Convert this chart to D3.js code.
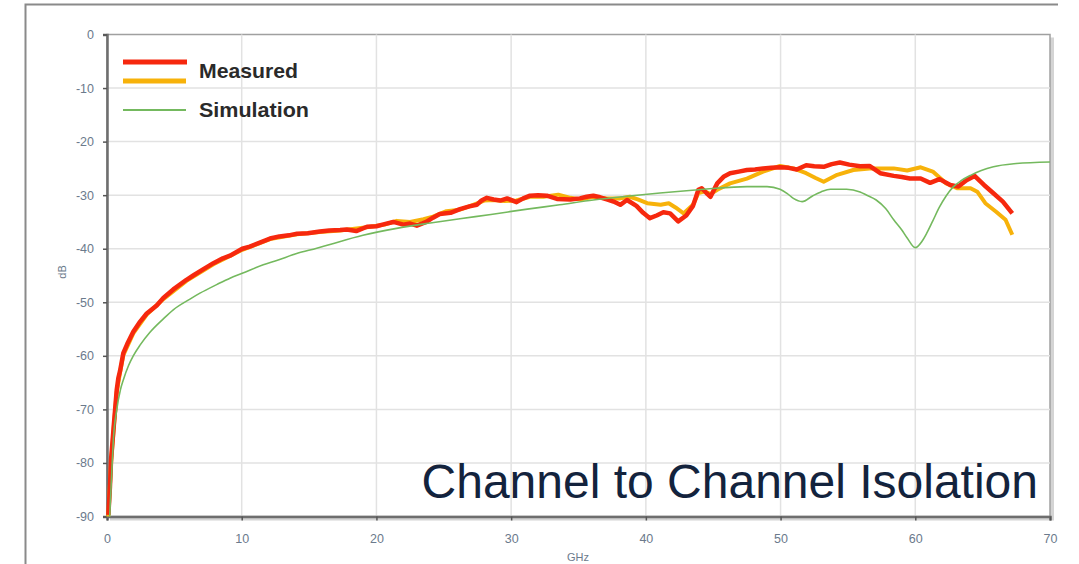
<!DOCTYPE html>
<html>
<head>
<meta charset="utf-8">
<script src="https://cdn.jsdelivr.net/npm/d3@7"></script>
<style>
  html, body { margin: 0; padding: 0; background: #fff; }
  svg { display: block; }
</style>
</head>
<body>
<svg id="chart" width="1079" height="564"></svg>
<script>
// Frequency (GHz) and isolation (dB) samples for each trace
const measuredAGHz = [0.1,0.22,0.3,0.42,0.52,0.6,0.72,0.84,0.97,1.21,1.5,1.95,2.4,2.95,3.69,4.18,4.92,5.9,6.4,7.1,7.9,8.6,9.13,10.04,10.6,11.3,12.1,12.8,13.5,14.1,14.9,15.8,16.5,17.3,17.8,18.5,19.3,20.0,20.6,21.25,22.0,22.5,23.0,23.7,24.2,24.7,25.5,26.2,26.9,27.45,27.8,28.2,28.7,29.2,29.7,30.4,30.9,31.4,32.0,32.65,33.4,34.4,35.1,35.6,36.1,36.6,37.1,37.6,38.1,38.6,39.3,39.8,40.3,40.8,41.3,41.8,42.4,43.0,43.5,43.9,44.15,44.5,44.8,45.3,45.8,46.25,46.9,47.5,48.1,48.7,49.3,49.96,50.6,51.2,51.9,52.5,53.2,53.8,54.4,55.1,55.9,56.6,57.4,58.4,59.0,59.6,60.4,61.1,61.8,62.6,63.2,63.8,64.4,65.1,65.8,66.5,67.2];
const measuredADb = [-89.7,-84.4,-79.4,-75.7,-72.5,-70.1,-66.4,-64.2,-62.8,-59.5,-57.8,-55.5,-53.8,-52.1,-50.6,-49.2,-47.6,-45.8,-45.0,-43.9,-42.7,-41.8,-41.3,-40.0,-39.6,-38.9,-38.1,-37.7,-37.5,-37.2,-37.1,-36.8,-36.6,-36.5,-36.4,-36.7,-35.9,-35.8,-35.4,-35.0,-35.5,-35.3,-35.7,-35.0,-34.2,-33.5,-33.3,-32.6,-32.1,-31.8,-31.0,-30.5,-30.8,-31.0,-30.6,-31.3,-30.6,-30.1,-30.0,-30.1,-30.7,-30.8,-30.6,-30.3,-30.1,-30.4,-30.8,-31.2,-31.8,-30.9,-32.0,-33.3,-34.3,-33.8,-33.2,-33.4,-34.9,-33.8,-32.0,-29.0,-28.7,-29.6,-30.3,-27.8,-26.5,-25.9,-25.6,-25.3,-25.2,-25.0,-24.9,-24.8,-24.9,-25.2,-24.4,-24.6,-24.7,-24.2,-23.9,-24.3,-24.6,-24.55,-25.9,-26.4,-26.6,-26.9,-26.9,-27.7,-27.0,-28.1,-28.4,-27.2,-26.4,-28.1,-29.65,-31.2,-33.4];

const measuredBGHz = [0.1,0.3,0.52,0.72,0.97,1.21,1.95,2.95,4.18,5.9,7.9,10.04,12.1,14.1,15.8,17.3,19.3,20.6,21.5,22.5,23.5,24.2,25.2,26.2,27.0,28.0,28.7,29.5,30.4,31.4,32.4,33.5,34.4,35.1,36.1,37.1,38.1,38.8,39.4,40.1,41.1,41.7,42.2,42.8,43.5,43.9,44.4,44.8,45.3,46.25,47.5,48.7,49.96,50.95,51.9,52.6,53.2,54.2,55.4,56.6,57.1,58.4,59.4,60.4,61.3,62.3,63.1,64.1,64.6,65.2,66.0,66.7,67.2];
const measuredBDb = [-90.0,-80.0,-72.8,-66.8,-63.1,-59.9,-55.8,-52.3,-49.4,-46.0,-42.9,-40.2,-38.2,-37.3,-36.9,-36.6,-36.0,-35.5,-34.8,-35.0,-34.5,-34.0,-33.0,-32.7,-32.0,-31.0,-30.9,-31.1,-31.0,-30.3,-30.3,-29.9,-30.5,-30.8,-30.3,-30.6,-30.6,-30.3,-30.8,-31.5,-31.8,-31.5,-32.3,-33.4,-31.8,-29.6,-29.3,-29.8,-29.0,-27.8,-26.9,-25.6,-24.55,-25.0,-25.9,-26.8,-27.5,-26.2,-25.3,-25.0,-25.0,-25.0,-25.4,-24.8,-25.6,-27.8,-28.7,-28.7,-29.35,-31.5,-33.1,-34.6,-37.4];

const simulationGHz = [0.2,0.35,0.47,0.72,1.0,1.21,1.6,1.95,2.45,3.19,4.18,4.92,6.16,6.9,8.14,9.13,10.04,11.6,12.6,14.08,15.57,16.55,19.0,21.5,24.0,26.2,28.5,31.2,33.6,36.1,38.6,41.05,43.9,45.0,47.5,49.0,49.96,50.5,50.95,51.6,52.4,53.0,53.7,54.9,55.9,56.4,57.1,57.8,58.4,59.0,59.4,60.0,60.5,60.85,61.3,61.8,62.3,62.8,63.4,64.1,64.9,65.8,67.5,70.0];
const simulationDb = [-90.0,-81.9,-75.7,-70.1,-66.3,-64.5,-61.8,-60.0,-58.0,-55.6,-53.1,-51.4,-49.4,-48.3,-46.7,-45.5,-44.6,-43.0,-42.2,-40.9,-39.9,-39.2,-37.5,-36.2,-35.2,-34.4,-33.6,-32.6,-31.8,-30.9,-30.2,-29.6,-29.0,-28.75,-28.4,-28.4,-28.9,-29.7,-30.6,-31.2,-30.1,-29.4,-28.9,-28.9,-29.4,-30.0,-30.9,-32.5,-34.6,-36.5,-38.0,-39.8,-38.6,-37.1,-34.8,-32.2,-30.1,-28.5,-27.3,-26.3,-25.4,-24.7,-24.1,-23.8];

const xTicks = [0,10,20,30,40,50,60,70];
const yTicks = [0,-10,-20,-30,-40,-50,-60,-70,-80,-90];
const legendLabels = ["Measured", "Simulation"];
const titleText = "Channel to Channel Isolation";

const svg = d3.select("#chart");
const plot = { left: 107, right: 1050, top: 34.5, bottom: 516.5 };

const x = d3.scaleLinear().domain([0, 70]).range([plot.left, plot.right]);
const y = d3.scaleLinear().domain([-90, 0]).range([plot.bottom, plot.top]);

// white page and outer frame
svg.append("rect").attr("width", 1079).attr("height", 564).attr("fill", "#fff");
svg.append("path")
  .attr("d", "M25.5,564 V4.5 H1058")
  .attr("fill", "none").attr("stroke", "#8a8a8a").attr("stroke-width", 2);

// plot area drop shadow
svg.append("rect")
  .attr("x", plot.left + 3).attr("y", plot.top + 3)
  .attr("width", plot.right - plot.left + 1).attr("height", plot.bottom - plot.top + 1)
  .attr("fill", "#d4d4d4");
svg.append("rect")
  .attr("x", plot.left).attr("y", plot.top)
  .attr("width", plot.right - plot.left).attr("height", plot.bottom - plot.top)
  .attr("fill", "#fff").attr("stroke", "#a0a0a0").attr("stroke-width", 1.5);

// gridlines
svg.append("g").selectAll("line").data(xTicks.filter(d => d > 0 && d < 70)).join("line")
  .attr("x1", d => x(d)).attr("x2", d => x(d))
  .attr("y1", plot.top).attr("y2", plot.bottom)
  .attr("stroke", "#e2e2e2").attr("stroke-width", 1.5);
svg.append("g").selectAll("line").data(yTicks.filter(d => d < 0 && d > -90)).join("line")
  .attr("x1", plot.left).attr("x2", plot.right)
  .attr("y1", d => y(d)).attr("y2", d => y(d))
  .attr("stroke", "#e2e2e2").attr("stroke-width", 1.5);

// axes
const tickColor = "#6b7a8c";
const plainNumber = d => String(d);
const xAxis = d3.axisBottom(x).tickValues(xTicks).tickSize(4).tickPadding(14).tickFormat(plainNumber);
const yAxis = d3.axisLeft(y).tickValues(yTicks).tickSize(4).tickPadding(9).tickFormat(plainNumber);

const gx = svg.append("g").attr("transform", `translate(0,${plot.bottom})`).call(xAxis);
const gy = svg.append("g").attr("transform", `translate(${plot.left},0)`).call(yAxis);
[gx, gy].forEach(g => {
  g.select(".domain").attr("stroke", "#6e6e6e").attr("stroke-width", 2.5);
  g.selectAll(".tick line").attr("stroke", "#555").attr("stroke-width", 1.5);
  g.selectAll(".tick text")
    .attr("fill", tickColor)
    .style("font-family", "Arial, 'Liberation Sans', sans-serif")
    .style("font-size", "12.5px");
});

svg.append("text")
  .attr("x", 578).attr("y", 561)
  .attr("text-anchor", "middle")
  .attr("fill", tickColor)
  .style("font-family", "Arial, 'Liberation Sans', sans-serif")
  .style("font-size", "11px")
  .text("GHz");
svg.append("text")
  .attr("transform", "translate(66,272) rotate(-90)")
  .attr("text-anchor", "middle")
  .attr("fill", tickColor)
  .style("font-family", "Arial, 'Liberation Sans', sans-serif")
  .style("font-size", "11px")
  .text("dB");

// traces
const line = d3.line().x(d => x(d[0])).y(d => y(d[1]));
const zip = (a, b) => a.map((v, i) => [v, b[i]]);

const colors = { red: "#f6280e", orange: "#f7b20a", green: "#74b95e" };

svg.append("path").datum(zip(measuredBGHz, measuredBDb))
  .attr("d", line).attr("fill", "none")
  .attr("stroke", colors.orange).attr("stroke-width", 4).attr("stroke-linejoin", "round");
svg.append("path").datum(zip(measuredAGHz, measuredADb))
  .attr("d", line).attr("fill", "none")
  .attr("stroke", colors.red).attr("stroke-width", 4.5).attr("stroke-linejoin", "round");
svg.append("path").datum(zip(simulationGHz, simulationDb))
  .attr("d", line.curve(d3.curveMonotoneX)).attr("fill", "none")
  .attr("stroke", colors.green).attr("stroke-width", 1.6);

// legend
const legend = svg.append("g");
legend.append("line").attr("x1", 123).attr("x2", 187).attr("y1", 62).attr("y2", 62)
  .attr("stroke", colors.red).attr("stroke-width", 5);
legend.append("line").attr("x1", 123).attr("x2", 186).attr("y1", 81).attr("y2", 81)
  .attr("stroke", colors.orange).attr("stroke-width", 5);
legend.append("line").attr("x1", 123).attr("x2", 186).attr("y1", 110).attr("y2", 110)
  .attr("stroke", colors.green).attr("stroke-width", 2);
legend.selectAll("text").data(legendLabels).join("text")
  .attr("x", 199).attr("y", (d, i) => i === 0 ? 78 : 117)
  .attr("fill", "#2a2a2a")
  .style("font-family", "Arial, 'Liberation Sans', sans-serif")
  .style("font-size", "21px").style("font-weight", "bold")
  .attr("textLength", (d, i) => i === 0 ? 99 : 110)
  .attr("lengthAdjust", "spacingAndGlyphs")
  .text(d => d);

// title
svg.append("text")
  .attr("x", 1038).attr("y", 498)
  .attr("text-anchor", "end")
  .attr("fill", "#13233d")
  .style("font-family", "Arial, 'Liberation Sans', sans-serif")
  .style("font-size", "48px")
  .text(titleText);
</script>
</body>
</html>
